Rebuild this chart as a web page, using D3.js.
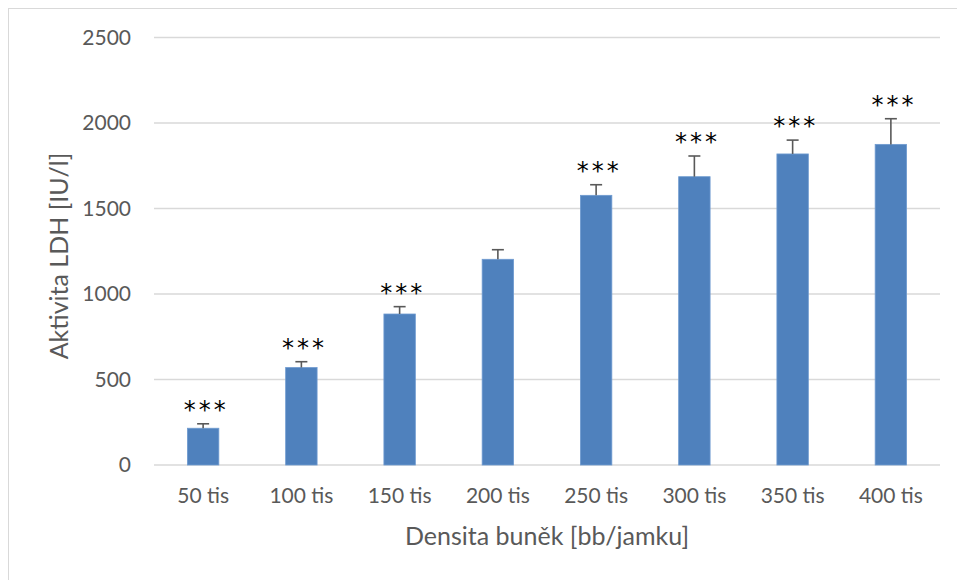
<!DOCTYPE html>
<html>
<head>
<meta charset="utf-8">
<script src="https://cdn.jsdelivr.net/npm/d3@7"></script>
<style>
  body { margin: 0; background: #fff; }
  svg { display: block; font-family: Lato, "Open Sans", sans-serif; }
</style>
</head>
<body>
<div class="chart"></div>
<script>
// hodnoty
const categories = ["50 tis", "100 tis", "150 tis", "200 tis", "250 tis", "300 tis", "350 tis", "400 tis"];
const ldh = [215, 570, 883, 1203, 1577, 1686, 1819, 1875];
const sd = [26, 34, 43, 56, 62, 121, 81, 150];
const signif = ["***", "***", "***", "", "***", "***", "***", "***"];
const yTicks = [0, 500, 1000, 1500, 2000, 2500];

const width = 957, height = 580;
const margin = {left: 154, right: 17, top: 37.5, bottom: 115};

let svg = d3.select(".chart").append("svg")
    .attr("width", width)
    .attr("height", height);

// ramecek grafu
svg.append("rect")
    .attr("x", 8.5).attr("y", 8.5)
    .attr("width", width + 20).attr("height", height + 20)
    .attr("fill", "none")
    .attr("stroke", "#d9d9d9");

let x = d3.scaleBand()
    .domain(categories)
    .range([margin.left, width - margin.right])
    .paddingInner(0.68)
    .paddingOuter(0.34);

let y = d3.scaleLinear()
    .domain([0, 2500])
    .range([height - margin.bottom, margin.top]);

// mrizka
svg.append("g")
    .selectAll("line")
    .data(yTicks)
    .enter()
    .append("line")
    .attr("x1", margin.left)
    .attr("x2", width - margin.right)
    .attr("y1", d => y(d))
    .attr("y2", d => y(d))
    .attr("stroke", "#d9d9d9")
    .attr("stroke-width", 1.3);

// osa y
let yAxis = svg.append("g")
    .attr("transform", "translate(" + (margin.left - 23) + ",0)")
    .call(d3.axisLeft(y).tickValues(yTicks).tickFormat(d3.format("d")).tickSize(0).tickPadding(0));
yAxis.select(".domain").remove();
yAxis.selectAll("text")
    .attr("fill", "#595959")
    .style("font-size", "21px")
    .style("font-family", "Lato, sans-serif");

// sloupce
svg.append("g")
    .selectAll("rect")
    .data(ldh)
    .enter()
    .append("rect")
    .attr("x", (d, i) => x(categories[i]))
    .attr("y", d => y(d))
    .attr("width", x.bandwidth())
    .attr("height", d => y(0) - y(d))
    .attr("fill", "#4f81bd")
    .attr("stroke", "#6f9bd0")
    .attr("stroke-width", 0.8);

// chybove usecky
let err = svg.append("g")
    .attr("stroke", "#595959")
    .attr("stroke-width", 1.6);
ldh.forEach((v, i) => {
    let cx = x(categories[i]) + x.bandwidth() / 2;
    err.append("line")
        .attr("x1", cx).attr("x2", cx)
        .attr("y1", y(v)).attr("y2", y(v + sd[i]));
    err.append("line")
        .attr("x1", cx - 6).attr("x2", cx + 6)
        .attr("y1", y(v + sd[i])).attr("y2", y(v + sd[i]));
});

// hvezdicky vyznamnosti
svg.append("g")
    .selectAll("text")
    .data(signif)
    .enter()
    .append("text")
    .attr("x", (d, i) => x(categories[i]) + x.bandwidth() / 2 + 3)
    .attr("y", (d, i) => y(ldh[i] + sd[i]) - 19)
    .attr("dy", "0.55em")
    .attr("text-anchor", "middle")
    .attr("fill", "#000")
    .style("font-size", "24px")
    .style("letter-spacing", "3px")
    .style("font-family", "'DejaVu Sans', sans-serif")
    .text(d => d);

// osa x
let xAxis = svg.append("g")
    .attr("transform", "translate(0," + (y(0) + 23) + ")")
    .call(d3.axisBottom(x).tickSize(0).tickPadding(0));
xAxis.select(".domain").remove();
xAxis.selectAll("text")
    .attr("fill", "#595959")
    .style("font-size", "21px")
    .style("font-family", "Lato, sans-serif");

// popisky os
svg.append("text")
    .attr("x", (margin.left + width - margin.right) / 2)
    .attr("y", 545)
    .attr("text-anchor", "middle")
    .attr("fill", "#595959")
    .style("font-size", "25px")
    .text("Densita buněk [bb/jamku]");

svg.append("text")
    .attr("transform", "translate(68," + 256 + ") rotate(-90)")
    .attr("text-anchor", "middle")
    .attr("fill", "#595959")
    .style("font-size", "25px")
    .text("Aktivita LDH [IU/l]");
</script>
</body>
</html>
